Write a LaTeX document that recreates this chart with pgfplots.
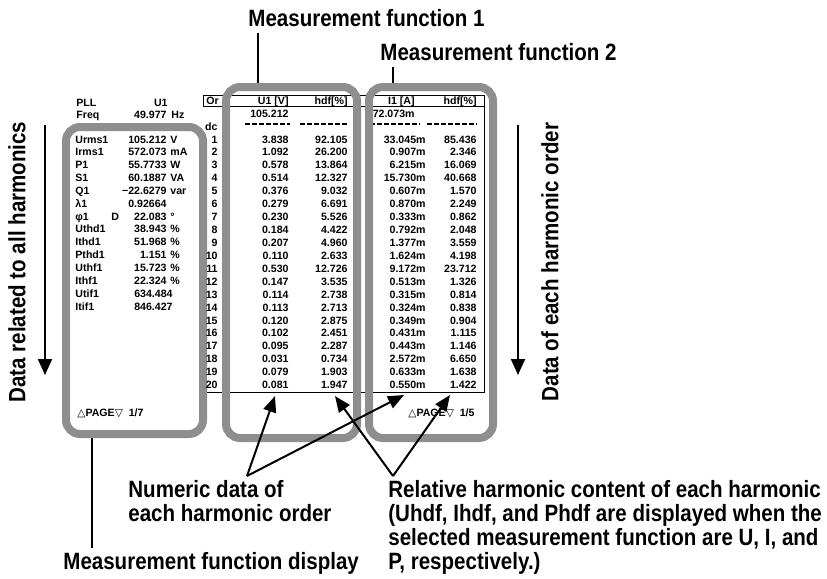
\documentclass[border=0pt]{standalone}
\usepackage{fontspec}
\setmainfont{Liberation Sans}
\newfontfamily\narrow{Liberation Sans}[FakeStretch=0.87]
\newfontfamily\sym{DejaVu Sans}
\usepackage{pgfplots}
\pgfplotsset{compat=1.18}
\usepackage{pgfplotstable}
\usetikzlibrary{arrows.meta}

\definecolor{frame}{RGB}{142,142,142}

% harmonic table: order, U1 [V], hdf, I1 [A], hdf
\pgfplotstableread{
n U Uh I Ih
1 3.838 92.105 33.045m 85.436
2 1.092 26.200 0.907m 2.346
3 0.578 13.864 6.215m 16.069
4 0.514 12.327 15.730m 40.668
5 0.376 9.032 0.607m 1.570
6 0.279 6.691 0.870m 2.249
7 0.230 5.526 0.333m 0.862
8 0.184 4.422 0.792m 2.048
9 0.207 4.960 1.377m 3.559
10 0.110 2.633 1.624m 4.198
11 0.530 12.726 9.172m 23.712
12 0.147 3.535 0.513m 1.326
13 0.114 2.738 0.315m 0.814
14 0.113 2.713 0.324m 0.838
15 0.120 2.875 0.349m 0.904
16 0.102 2.451 0.431m 1.115
17 0.095 2.287 0.443m 1.146
18 0.031 0.734 2.572m 6.650
19 0.079 1.903 0.633m 1.638
20 0.081 1.947 0.550m 1.422
}\harm

% data related to all harmonics
\pgfplotstableread[col sep=comma]{
i,name,val,unit,dx
0,Urms1,105.212,V,0
1,Irms1,572.073,mA,0
2,P1,55.7733,W,0
3,S1,60.1887,VA,0
4,Q1,−22.6279,var,0
5,λ1,0.92664,{},0
6,φ1,22.083,°,0
7,Uthd1,38.943,\%,0
8,Ithd1,51.968,\%,0
9,Pthd1,1.151,\%,0
10,Uthf1,15.723,\%,0
11,Ithf1,22.324,\%,0
12,Utif1,634.484,{},6
13,Itif1,846.427,{},6
}\allh

\begin{document}
\begin{tikzpicture}
\begin{axis}[
    width=413.5pt, height=289.5pt, scale only axis,
    xmin=0, xmax=827, ymin=0, ymax=579, y dir=reverse,
    hide axis, clip=false,
    every axis plot/.append style={draw=none, mark=none, nodes near coords,
        point meta=explicit symbolic},
    every node near coord/.append style={inner sep=0pt, font=\scr},
]
\def\scr{\bfseries\fontsize{5.3}{6}\selectfont}
\def\lab{\narrow\bfseries\fontsize{11.8}{13}\selectfont}

% left panel
\addplot[nodes near coords align={anchor=base west}] table[x expr=75, y expr={143+\thisrow{i}*12.85}, meta=name] {\allh};
\addplot[nodes near coords align={anchor=base east}] table[x expr={167+\thisrow{dx}}, y expr={143+\thisrow{i}*12.85}, meta=val] {\allh};
\addplot[nodes near coords align={anchor=base west}] table[x expr=170, y expr={143+\thisrow{i}*12.85}, meta=unit] {\allh};
\node[anchor=base west, inner sep=0pt, font=\scr] at (76,106) {PLL};
\node[anchor=base east, inner sep=0pt, font=\scr] at (168,106) {U1};
\node[anchor=base west, inner sep=0pt, font=\scr] at (76,118) {Freq};
\node[anchor=base east, inner sep=0pt, font=\scr] at (167,118) {49.977};
\node[anchor=base west, inner sep=0pt, font=\scr] at (171,118) {Hz};
\node[anchor=base west, inner sep=0pt, font=\scr] at (111,220) {D};
\node[anchor=base west, inner sep=0pt, font=\scr] at (77,416) {{\sym △}PAGE{\sym ▽}\ \ 1/7};

% harmonic table
\addplot[nodes near coords align={anchor=base east}] table[x expr=218, y expr={143+(\thisrow{n}-1)*12.93}, meta=n] {\harm};
\addplot[nodes near coords align={anchor=base east}] table[x expr=289, y expr={143+(\thisrow{n}-1)*12.93}, meta=U] {\harm};
\addplot[nodes near coords align={anchor=base east}] table[x expr=348, y expr={143+(\thisrow{n}-1)*12.93}, meta=Uh] {\harm};
\addplot[nodes near coords align={anchor=base east}] table[x expr=426, y expr={143+(\thisrow{n}-1)*12.93}, meta=I] {\harm};
\addplot[nodes near coords align={anchor=base east}] table[x expr=477, y expr={143+(\thisrow{n}-1)*12.93}, meta=Ih] {\harm};

\node[anchor=base west, inner sep=0pt, font=\scr] at (206,104) {Or};
\node[anchor=base east, inner sep=0pt, font=\scr] at (218,130.5) {dc};
\node[anchor=base east, inner sep=0pt, font=\scr] at (289,104) {U1 [V]};
\node[anchor=base east, inner sep=0pt, font=\scr] at (348,104) {hdf[\%]};
\node[anchor=base east, inner sep=0pt, font=\scr] at (415,104) {I1 [A]};
\node[anchor=base east, inner sep=0pt, font=\scr] at (477,104) {hdf[\%]};
\node[anchor=base east, inner sep=0pt, font=\scr] at (289,117) {105.212};
\node[anchor=base east, inner sep=0pt, font=\scr] at (415,117) {572.073m};
\node[anchor=base west, inner sep=0pt, font=\scr] at (408,416) {{\sym △}PAGE{\sym ▽}\ \ 1/5};
\draw[line width=0.9pt, dash pattern=on 2.6pt off 0.9pt] (245,124)--(290,124) (300,124)--(348,124)
    (370,124)--(420,124) (427,124)--(477,124);
\draw[line width=0.5pt] (203,106)--(203,95.5)--(484,95.5)--(484,392)--(206,392)--(206,380)
    (203,106)--(484,106);

% frames
\draw[frame, line width=4pt, rounded corners=7pt] (66,127) rectangle (203,434);
\draw[frame, line width=4pt, rounded corners=7pt] (226,87) rectangle (357,438);
\draw[frame, line width=4pt, rounded corners=7pt] (369,87) rectangle (493,438);

% annotations
\node[anchor=west, inner sep=0pt, font=\lab] at (248,18) {Measurement function 1};
\node[anchor=west, inner sep=0pt, font=\lab] at (380,52) {Measurement function 2};
\draw[line width=1pt] (258,33)--(258,83) (393,67)--(393,83);
\draw[line width=1pt, -{Triangle[length=8pt,width=7pt]}] (45,125)--(45,375);
\draw[line width=1pt, -{Triangle[length=8pt,width=7pt]}] (518,125)--(518,375);
\node[rotate=90, inner sep=0pt, font=\lab] at (17,262) {Data related to all harmonics};
\node[rotate=90, inner sep=0pt, font=\lab] at (550,262) {Data of each harmonic order};
\draw[line width=1pt, -{Triangle[length=8pt,width=6.5pt]}] (247,476)--(275,396);
\draw[line width=1pt, -{Triangle[length=8pt,width=6.5pt]}] (247,476)--(404,395);
\draw[line width=1pt, -{Triangle[length=8pt,width=6.5pt]}] (393,476)--(335,396);
\draw[line width=1pt, -{Triangle[length=8pt,width=6.5pt]}] (393,476)--(450,395);
\draw[line width=1pt] (92,438)--(92,548);
\node[anchor=base west, inner sep=0pt, font=\lab] at (128,497) {Numeric data of};
\node[anchor=base west, inner sep=0pt, font=\lab] at (128,521) {each harmonic order};
\node[anchor=base west, inner sep=0pt, font=\lab] at (388,497) {Relative harmonic content of each harmonic};
\node[anchor=base west, inner sep=0pt, font=\lab] at (388,521) {(Uhdf, Ihdf, and Phdf are displayed when the};
\node[anchor=base west, inner sep=0pt, font=\lab] at (388,545) {selected measurement function are U, I, and};
\node[anchor=base west, inner sep=0pt, font=\lab] at (388,569) {P, respectively.)};
\node[anchor=base west, inner sep=0pt, font=\lab] at (63,569) {Measurement function display};
\end{axis}
\pgfresetboundingbox
\useasboundingbox (current axis.south west) rectangle (current axis.north east);
\end{tikzpicture}
\end{document}
